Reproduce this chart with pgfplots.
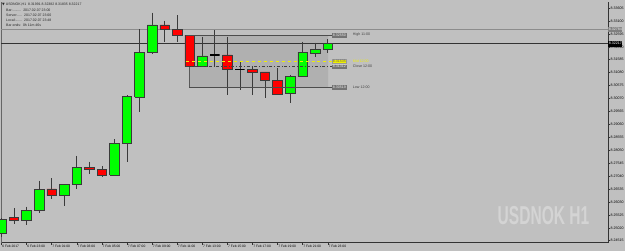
\documentclass[border=0pt]{standalone}
\usepackage{fontspec}
\setmainfont{Liberation Sans}
\newfontfamily\dejavu{DejaVu Sans}
\usepackage{pgfplots}
\pgfplotsset{compat=1.18}
\definecolor{bg}{HTML}{C0C0C0}
\definecolor{bull}{HTML}{00FF00}
\definecolor{bear}{HTML}{FF0000}
\definecolor{edge}{HTML}{3A3A3A}
\definecolor{rectfill}{HTML}{B0B0B0}
\definecolor{wm}{HTML}{D4D4D4}
\definecolor{lblbox}{HTML}{747474}
\definecolor{ylw}{HTML}{F0F000}
\newcommand\candle[6]{%
  \pgfmathsetmacro\cL{#1-0.38}\pgfmathsetmacro\cR{#1+0.38}%
  \edef\tmp{\noexpand\addplot[wick] coordinates {(#1,#3) (#1,#4)};%
  \noexpand\addplot[body,#6] coordinates {(\cL,#2) (\cR,#2) (\cR,#5) (\cL,#5) (\cL,#2)};}\tmp}
\begin{document}
\begin{tikzpicture}[x=1bp,y=1bp]
\useasboundingbox (0,0) rectangle (625,251);
\fill[bg] (0,0) rectangle (625,251);
% watermark
\node[text=wm, font=\bfseries\fontsize{26}{26}\selectfont, xscale=0.6, inner sep=0] at (543.5,35.5) {USDNOK H1};
\begin{axis}[
  at={(1bp,8.5bp)}, anchor=south west,
  scale only axis, width=607bp, height=240.5bp,
  xmin=-0.04, xmax=48.33, ymin=8.24445, ymax=8.33839,
  clip=false,
  axis x line*=bottom, axis y line*=right,
  axis line style={black!80, line width=0.8bp},
  tick align=outside, major tick length=2bp,
  tick style={black!80, line width=0.5bp},
  xtick={0,2,...,26},
  xticklabels={6 Feb 2017, 6 Feb 23:00, 7 Feb 01:00, 7 Feb 03:00, 7 Feb 05:00, 7 Feb 07:00, 7 Feb 09:00, 7 Feb 11:00, 7 Feb 13:00, 7 Feb 15:00, 7 Feb 17:00, 7 Feb 19:00, 7 Feb 21:00, 7 Feb 23:00},
  xticklabel style={font=\fontsize{3.3}{4}\selectfont, anchor=north west, inner sep=0.3bp, xshift=0.3bp},
  ytick={8.24515,8.25020,8.25525,8.26030,8.26535,8.27040,8.27545,8.28050,8.28555,8.29060,8.29565,8.30070,8.30575,8.31080,8.31585,8.32090,8.32595,8.33100,8.33605},
  yticklabels={8.24515,8.25020,8.25525,8.26030,8.26535,8.27040,8.27545,8.28050,8.28555,8.29060,8.29565,8.30070,8.30575,8.31080,8.31585,8.32090,8.32595,8.33100,8.33605},
  yticklabel style={font=\fontsize{3.6}{4}\selectfont, anchor=west, inner sep=0.4bp},
  wick/.style={draw=edge, line width=0.7bp, mark=none},
  body/.style={draw=edge, line width=0.7bp, mark=none},
]
% left border
\addplot[black!60, line width=0.8bp, mark=none] coordinates {(-0.04,8.24445) (-0.04,8.33839)};
% rectangle object
\addplot[fill=rectfill, draw=none, mark=none] coordinates {(14.96,8.32550) (26.02,8.32550) (26.02,8.30519) (14.96,8.30519) (14.96,8.32550)};
\addplot[black!65, line width=0.6bp, mark=none] coordinates {(14.96,8.32550) (14.96,8.30519)};
% horizontal levels
\addplot[black!45, line width=0.6bp, mark=none] coordinates {(-0.04,8.32784) (48.33,8.32784)};
\addplot[black!80, line width=0.6bp, mark=none] coordinates {(-0.04,8.32217) (48.33,8.32217)};
% candles: k, open, high, low, close
\candle{0}{8.24816}{8.25402}{8.24660}{8.25363}{fill=bull}
\candle{1}{8.25414}{8.25781}{8.25168}{8.25296}{fill=bear}
\candle{2}{8.25296}{8.25843}{8.25117}{8.25714}{fill=bull}
\candle{3}{8.25703}{8.26859}{8.25609}{8.26507}{fill=bull}
\candle{4}{8.26535}{8.26953}{8.26144}{8.26273}{fill=bear}
\candle{5}{8.26273}{8.26730}{8.25871}{8.26730}{fill=bull}
\candle{6}{8.26703}{8.27824}{8.26546}{8.27382}{fill=bull}
\candle{7}{8.27394}{8.27601}{8.27121}{8.27289}{fill=bear}
\candle{8}{8.27304}{8.27433}{8.27003}{8.27082}{fill=bear}
\candle{9}{8.27082}{8.28476}{8.27042}{8.28331}{fill=bull}
\candle{10}{8.28320}{8.30206}{8.27578}{8.30167}{fill=bull}
\candle{11}{8.30128}{8.32784}{8.29542}{8.31858}{fill=bull}
\candle{12}{8.31858}{8.33421}{8.31808}{8.32941}{fill=bull}
\candle{13}{8.32941}{8.33108}{8.32289}{8.32773}{fill=bear}
\candle{14}{8.32773}{8.33331}{8.32289}{8.32550}{fill=bear}
\candle{15}{8.32550}{8.32550}{8.31300}{8.31312}{fill=bear}
\candle{16}{8.31312}{8.32484}{8.31300}{8.31730}{fill=bull}
\candle{17}{8.31769}{8.32745}{8.31300}{8.31769}{draw=black, line width=1.1bp}
\candle{18}{8.31769}{8.32484}{8.30206}{8.31210}{fill=bear}
\candle{19}{8.31210}{8.31507}{8.30402}{8.31210}{draw=black, line width=1.1bp}
\candle{20}{8.31222}{8.31312}{8.30206}{8.31105}{fill=bear}
\candle{21}{8.31105}{8.31105}{8.30077}{8.30765}{fill=bear}
\candle{22}{8.30792}{8.31249}{8.30206}{8.30245}{fill=bear}
\candle{23}{8.30273}{8.30988}{8.29882}{8.30948}{fill=bull}
\candle{24}{8.30921}{8.32288}{8.30909}{8.31886}{fill=bull}
\candle{25}{8.31835}{8.32249}{8.31702}{8.31991}{fill=bull}
\candle{26}{8.31991}{8.32382}{8.31835}{8.32217}{fill=bull}
% rectangle level lines
\addplot[black!70, line width=0.6bp, mark=none] coordinates {(14.7,8.32550) (26.33,8.32550)};
\addplot[black!70, line width=0.6bp, mark=none] coordinates {(14.96,8.30519) (26.33,8.30519)};
\addplot[ylw, line width=0.6bp, dashed, mark=none] coordinates {(14.7,8.31535) (26.33,8.31535)};
\addplot[black!75, line width=0.6bp, dash dot, mark=none] coordinates {(14.7,8.31312) (26.33,8.31312)};
% level labels
\begin{scope}[every node/.style={font=\fontsize{3.6}{4}\selectfont, inner sep=0.6bp, anchor=west}]
\node[fill=lblbox, draw=black!55, text=black!8] at (axis cs:26.35,8.32550) {8.32550};
\node[text=black!75, xshift=20bp] at (axis cs:26.35,8.32550) {High 11:00};
\node[fill=ylw, draw=black!40, text=black!60] at (axis cs:26.35,8.31535) {8.31535};
\node[text=ylw, xshift=20bp] at (axis cs:26.35,8.31535) {Mid 12:00};
\node[fill=lblbox, draw=black!55, text=black!8] at (axis cs:26.35,8.31312) {8.31312};
\node[text=black!75, xshift=20bp] at (axis cs:26.35,8.31312) {Close 12:00};
\node[fill=lblbox, draw=black!55, text=black!8] at (axis cs:26.35,8.30519) {8.30519};
\node[text=black!75, xshift=20bp] at (axis cs:26.35,8.30519) {Low 12:00};
% price axis boxes
\node[fill=black!50, text=black!5, minimum height=5bp, font=\fontsize{3.6}{4}\selectfont] at (axis cs:48.33,8.32784) {8.32784};
\node[fill=black, text=white, minimum height=6bp, font=\fontsize{3.6}{4}\selectfont] at (axis cs:48.33,8.32217) {8.32217};
\end{scope}
\end{axis}
% info panel
\begin{scope}[every node/.style={font=\fontsize{3.5}{4}\selectfont, text=black!85, anchor=west, inner sep=0}]
\node at (2,246.3) {{\dejavu ▼}\ USDNOK,H1\ \ 8.31991 8.32382 8.31835 8.32217};
\node at (6,241.2) {Bar:.........\ \ 2017.02.07 23:00};
\node at (6,236.2) {Server:.....\ \ 2017.02.07 23:00};
\node at (6,231.2) {Local:.......\ \ 2017.02.07 23:48};
\node at (6,226.2) {Bar ends:\ \ 0h 11m 46s};
\end{scope}
\end{tikzpicture}
\end{document}
